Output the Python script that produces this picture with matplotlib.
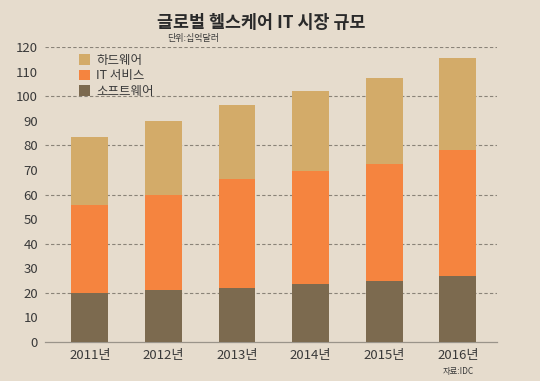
import numpy as np
import matplotlib.pyplot as plt

plt.rcParams['font.family'] = ['Noto Sans CJK KR', 'DejaVu Sans']

# data (단위: 십억달러)
years = ['2011년', '2012년', '2013년', '2014년', '2015년', '2016년']
software = [20, 21.3, 22, 23.5, 25, 27]
it_service_top = [55.7, 59.6, 66.2, 69.4, 72.4, 78.3]
total = [83.5, 90, 96.5, 102.3, 107.2, 115.6]
it_service = [t - s for t, s in zip(it_service_top, software)]
hardware = [t - i for t, i in zip(total, it_service_top)]

bg = '#e6dccd'
c_hw = '#d3ab69'
c_it = '#f5843f'
c_sw = '#7c6a4f'

fig = plt.figure(figsize=(5.4, 3.81), dpi=100, facecolor=bg)
ax = fig.add_axes([0.0833, 0.1024, 0.8367, 0.7742], facecolor=bg)

x = np.arange(len(years))
w = 0.5
ax.bar(x, software, w, color=c_sw, label='소프트웨어', zorder=3)
ax.bar(x, it_service, w, bottom=software, color=c_it, label='IT 서비스', zorder=3)
ax.bar(x, hardware, w, bottom=it_service_top, color=c_hw, label='하드웨어', zorder=3)

ax.set_xlim(-0.61, 5.53)
ax.set_ylim(0, 120)
ax.set_yticks(range(0, 121, 10))
ax.set_xticks(x)
ax.set_xticklabels(years)
ax.tick_params(axis='both', length=0, labelsize=9.5, colors='#3a3a3a')
ax.tick_params(axis='y', pad=5)
ax.tick_params(axis='x', pad=5)

for v in range(20, 121, 20):
    ax.axhline(v, color='#8a8378', lw=0.8, ls=(0, (3, 2)), zorder=1)

for s in ['top', 'right', 'left']:
    ax.spines[s].set_visible(False)
ax.spines['bottom'].set_color('#9a948a')
ax.spines['bottom'].set_linewidth(0.9)

handles, labels = ax.get_legend_handles_labels()
leg = ax.legend(handles[::-1], labels[::-1], loc='upper left',
                bbox_to_anchor=(0.05, 1.015), frameon=False, fontsize=9,
                handlelength=0.9, handleheight=0.9, handletextpad=0.5,
                labelspacing=0.2)
for t in leg.get_texts():
    t.set_color('#3a3a3a')

fig.text(0.484, 0.94, '글로벌 헬스케어 IT 시장 규모', ha='center', va='center',
         fontsize=12.5, fontweight='bold', color='#2a2a2a')
fig.text(0.31, 0.898, '단위:십억달러', ha='left', va='center',
         fontsize=6.5, color='#3a3a3a')
fig.text(0.848, 0.026, '자료:IDC', ha='center', va='center',
         fontsize=6, color='#3a3a3a')

fig.savefig('out.png', dpi=100, facecolor=bg)
